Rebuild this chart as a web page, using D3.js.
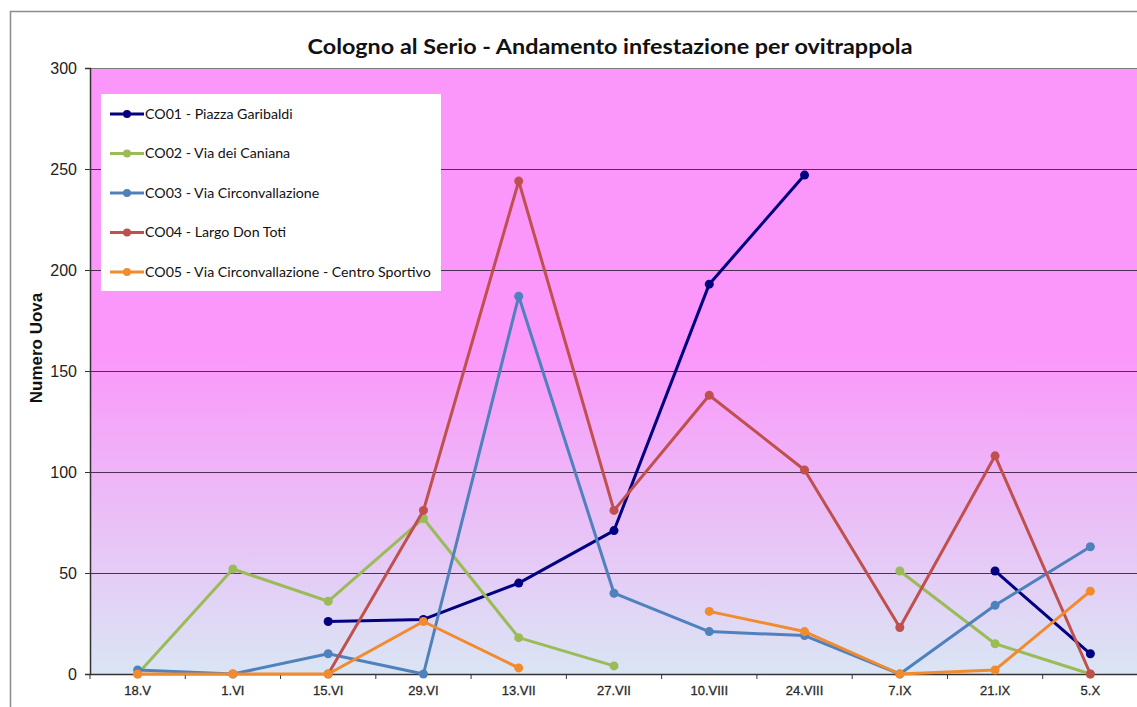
<!DOCTYPE html>
<html>
<head>
<meta charset="utf-8">
<script src="https://cdn.jsdelivr.net/npm/d3@7"></script>
<style>
  html, body { margin: 0; padding: 0; background: #fff; overflow: hidden; }
  svg { display: block; }
</style>
</head>
<body>
<svg id="chart" width="1137" height="707"></svg>
<script>
// Sampling dates (collection rounds)
const dates = ["18.V", "1.VI", "15.VI", "29.VI", "13.VII", "27.VII", "10.VIII", "24.VIII", "7.IX", "21.IX", "5.X"];

// Egg counts per ovitrap; null = no reading for that round
const co01 = [null, null, 26, 27, 45, 71, 193, 247, null, 51, 10];
const co02 = [0, 52, 36, 77, 18, 4, null, null, 51, 15, 0];
const co03 = [2, 0, 10, 0, 187, 40, 21, 19, 0, 34, 63];
const co04 = [null, null, 0, 81, 244, 81, 138, 101, 23, 108, 0];
const co05 = [0, 0, 0, 26, 3, null, 31, 21, 0, 2, 41];

const seriesNames = [
  "CO01 - Piazza Garibaldi",
  "CO02 - Via dei Caniana",
  "CO03 - Via Circonvallazione",
  "CO04 - Largo Don Toti",
  "CO05 - Via Circonvallazione - Centro Sportivo"
];
const seriesColors = ["#000080", "#9BBB59", "#4F81BD", "#C0504D", "#F28A2E"];
const yTicks = [0, 50, 100, 150, 200, 250, 300];

const series = [co01, co02, co03, co04, co05].map((vals, i) => ({
  name: seriesNames[i],
  color: seriesColors[i],
  values: vals.map((v, j) => ({ date: dates[j], value: v }))
}));

const svg = d3.select("#chart");
const plot = { left: 90, top: 68, right: 1138, bottom: 674 };

const x = d3.scaleBand().domain(dates).range([plot.left, plot.right]).paddingInner(0).paddingOuter(0);
const y = d3.scaleLinear().domain([0, 300]).range([plot.bottom, plot.top]);

// Outer chart frame (left and top edges fall inside the canvas)
svg.append("path")
  .attr("d", "M10.5,707 V11.5 H1137")
  .attr("fill", "none")
  .attr("stroke", "#8c8c8c").attr("stroke-width", 1.5);

// Plot area gradient: magenta fading to pale blue near the baseline
const defs = svg.append("defs");
const grad = defs.append("linearGradient")
  .attr("id", "plotBg").attr("x1", 0).attr("y1", 0).attr("x2", 0).attr("y2", 1);
grad.append("stop").attr("offset", "0%").attr("stop-color", "#fb96fa");
grad.append("stop").attr("offset", "47%").attr("stop-color", "#fb97fa");
grad.append("stop").attr("offset", "100%").attr("stop-color", "#dae5f4");

svg.append("rect")
  .attr("x", plot.left).attr("y", plot.top)
  .attr("width", plot.right - plot.left).attr("height", plot.bottom - plot.top)
  .attr("fill", "url(#plotBg)");

// Plot area top border
svg.append("line")
  .attr("x1", plot.left).attr("x2", plot.right)
  .attr("y1", plot.top + 0.5).attr("y2", plot.top + 0.5)
  .attr("stroke", "#7a7a7a").attr("stroke-width", 1.2);

// Horizontal gridlines
svg.append("g")
  .selectAll("line")
  .data(yTicks.filter(t => t > 0 && t < 300))
  .join("line")
  .attr("x1", plot.left).attr("x2", plot.right)
  .attr("y1", d => Math.round(y(d)) + 0.5).attr("y2", d => Math.round(y(d)) + 0.5)
  .attr("stroke", "#4a3052").attr("stroke-width", 1.2);

// Y axis
const yAxis = svg.append("g")
  .attr("transform", `translate(${plot.left},0)`)
  .call(d3.axisLeft(y).tickValues(yTicks).tickSize(5).tickPadding(8).tickFormat(d3.format("d")));
yAxis.select(".domain").attr("stroke", "#333").attr("stroke-width", 1.5);
yAxis.selectAll(".tick line").attr("stroke", "#333");
yAxis.selectAll("text")
  .attr("font-family", "'Liberation Sans', Arial, sans-serif")
  .attr("font-size", 16).attr("fill", "#222");

// X axis: labels at category centres, tick marks at category boundaries
const xAxis = svg.append("g")
  .attr("transform", `translate(0,${plot.bottom})`)
  .call(d3.axisBottom(x).tickSize(0).tickPadding(12));
xAxis.select(".domain").attr("stroke", "#333").attr("stroke-width", 1.5);
xAxis.selectAll("text")
  .attr("font-family", "'Liberation Sans', Arial, sans-serif")
  .attr("font-size", 13).attr("fill", "#2a2a2a")
  .attr("stroke", "#2a2a2a").attr("stroke-width", 0.3);
xAxis.selectAll(".boundary")
  .data(dates)
  .join("line")
  .attr("class", "boundary")
  .attr("x1", d => x(d)).attr("x2", d => x(d))
  .attr("y1", 0).attr("y2", 5)
  .attr("stroke", "#333");

// Axis title
svg.append("text")
  .attr("transform", "translate(42,348) rotate(-90)")
  .attr("text-anchor", "middle")
  .attr("font-family", "'Liberation Sans', Arial, sans-serif")
  .attr("font-weight", "bold").attr("font-size", 17)
  .attr("fill", "#111")
  .text("Numero Uova");

// Chart title
svg.append("text")
  .attr("x", 610).attr("y", 54)
  .attr("text-anchor", "middle")
  .attr("font-family", "Lato, 'Open Sans', sans-serif")
  .attr("font-weight", "bold").attr("font-size", 20)
  .attr("fill", "#111")
  .attr("textLength", 605).attr("lengthAdjust", "spacingAndGlyphs")
  .text("Cologno al Serio - Andamento infestazione per ovitrappola");

// Series lines and markers
const line = d3.line()
  .defined(d => d.value !== null)
  .x(d => x(d.date) + x.bandwidth() / 2)
  .y(d => y(d.value));

const gSeries = svg.append("g");
series.forEach(s => {
  const g = gSeries.append("g");
  g.append("path")
    .datum(s.values)
    .attr("d", line)
    .attr("fill", "none")
    .attr("stroke", s.color)
    .attr("stroke-width", 3)
    .attr("stroke-linejoin", "round");
  g.selectAll("circle")
    .data(s.values.filter(d => d.value !== null))
    .join("circle")
    .attr("cx", d => x(d.date) + x.bandwidth() / 2)
    .attr("cy", d => y(d.value))
    .attr("r", 4.5)
    .attr("fill", s.color);
});

// Legend
const legend = svg.append("g").attr("transform", "translate(101,94)");
legend.append("rect")
  .attr("width", 340).attr("height", 197)
  .attr("fill", "#fff");
const item = legend.selectAll(".item")
  .data(series)
  .join("g")
  .attr("class", "item")
  .attr("transform", (d, i) => `translate(0,${20 + i * 39.5})`);
item.append("line")
  .attr("x1", 9).attr("x2", 43)
  .attr("stroke", d => d.color).attr("stroke-width", 3);
item.append("circle")
  .attr("cx", 26).attr("r", 4)
  .attr("fill", d => d.color);
item.append("text")
  .attr("x", 44).attr("dy", "0.35em")
  .attr("font-family", "Lato, 'Open Sans', sans-serif")
  .attr("font-size", 14.2)
  .attr("fill", "#111")
  .text(d => d.name);
</script>
</body>
</html>
